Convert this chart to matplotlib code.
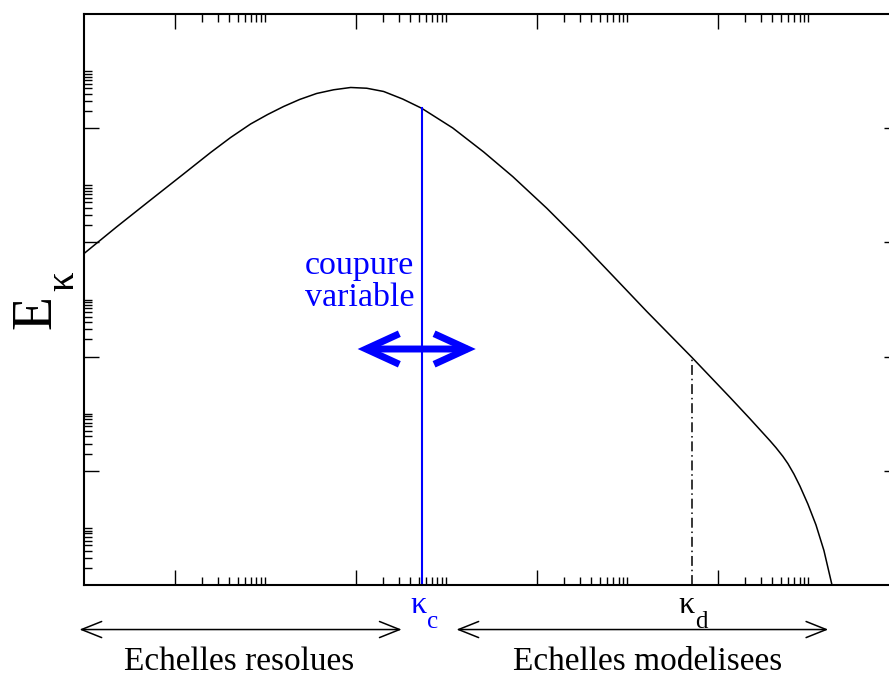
import numpy as np
import matplotlib.pyplot as plt
from matplotlib.patches import FancyArrowPatch
from matplotlib.ticker import FixedLocator, NullFormatter
from matplotlib.transforms import offset_copy

plt.rcParams['font.family'] = ['Liberation Serif', 'DejaVu Serif']

# energy spectrum (log10 of kappa and of E)
log_kappa = [-1.006, -0.641, -0.265, 0.099, 0.398, 0.619, 0.840, 1.028, 1.204,
             1.381, 1.569, 1.757, 1.945, 2.122, 2.309, 2.519, 2.729, 3.072,
             3.414, 3.735, 4.110, 4.475, 4.840, 5.215, 5.713, 6.133, 6.354,
             6.575, 6.641, 6.718, 6.773, 6.840, 6.906, 6.994, 7.083, 7.171, 7.260]
log_energy = [5.797, 6.270, 6.743, 7.198, 7.574, 7.837, 8.074, 8.240, 8.380,
              8.503, 8.608, 8.673, 8.713, 8.700, 8.643, 8.511, 8.349, 8.004,
              7.583, 7.152, 6.599, 6.021, 5.415, 4.790, 3.986, 3.287, 2.912,
              2.527, 2.406, 2.252, 2.126, 1.942, 1.732, 1.417, 1.053, 0.604, 0.0]

log_kappa_c = 2.729   # variable cutoff
log_kappa_d = 5.713   # dissipation scale
blue = '#0000ff'

kappa = 10.0 ** np.array(log_kappa)
energy = 10.0 ** np.array(log_energy)
kappa_c = 10.0 ** log_kappa_c
kappa_d = 10.0 ** log_kappa_d

fig = plt.figure(figsize=(8.89, 6.75), dpi=100)
# the right spine sits just past the image edge in the original
ax = fig.add_axes([84 / 889, 90 / 675, 815 / 889, 571 / 675])
ax.set_xscale('log')
ax.set_yscale('log')
ax.set_xlim(1e-1, 1e8)
ax.set_ylim(1e0, 1e10)

ax.plot(kappa, energy, color='black', lw=1.1)

e_c = 10 ** np.interp(log_kappa_c, log_kappa, log_energy)
e_d = 10 ** np.interp(log_kappa_d, log_kappa, log_energy)
ax.plot([kappa_c, kappa_c], [1, e_c], color=blue, lw=1.5)
ax.plot([kappa_d, kappa_d], [1, e_d], color='black', lw=1.1,
        linestyle=(0, (6.5, 2.5, 1, 2.5)))

# ticks: major every two decades, minors only in the first decade after each major
ax.xaxis.set_major_locator(FixedLocator([10.0 ** k for k in range(0, 9, 2)]))
ax.xaxis.set_minor_locator(FixedLocator([m * 10.0 ** k for k in range(0, 8, 2) for m in range(2, 11)]))
ax.yaxis.set_major_locator(FixedLocator([10.0 ** k for k in range(2, 9, 2)]))
ax.yaxis.set_minor_locator(FixedLocator([m * 10.0 ** k for k in range(0, 9, 2) for m in range(2, 11)]))
for axis in (ax.xaxis, ax.yaxis):
    axis.set_major_formatter(NullFormatter())
    axis.set_minor_formatter(NullFormatter())
ax.tick_params(which='both', direction='in', top=True, right=True, color='black')
ax.tick_params(which='major', length=11, width=1.0)
ax.tick_params(which='minor', length=5.8, width=1.0)
for sp in ax.spines.values():
    sp.set_linewidth(1.5)

# variable cutoff annotation
ax.text(10 ** 2.04, 10 ** 4.88, 'coupure\nvariable', color=blue, fontsize=24.5,
        ha='center', va='baseline', linespacing=1.1)
ax.add_patch(FancyArrowPatch((10 ** 2.022, 10 ** 4.133), (10 ** 3.326, 10 ** 4.133),
                             arrowstyle='<->,head_length=1.2,head_width=0.55',
                             mutation_scale=20, color=blue, lw=5,
                             shrinkA=0, shrinkB=0, capstyle='butt', joinstyle='miter'))

# kappa labels below the axis
trans = ax.get_xaxis_transform()
for k, sub, col, dx in [(kappa_c, 'c', blue, 3.6), (kappa_d, 'd', 'black', 2.2)]:
    ax.text(k, -0.049, 'κ', color=col, fontsize=23, ha='right', va='baseline',
            transform=offset_copy(trans, fig=fig, x=dx, y=0, units='points'))
    ax.text(k, -0.0753, sub, color=col, fontsize=18, ha='left', va='baseline',
            transform=offset_copy(trans, fig=fig, x=dx, y=0, units='points'))

for a, b in [(10 ** -1.05, 10 ** 2.508), (10 ** 3.113, 10 ** 7.219)]:
    ax.add_patch(FancyArrowPatch((a, -0.078), (b, -0.078), transform=trans,
                                 arrowstyle='<->,head_length=1.45,head_width=0.58',
                                 mutation_scale=10, color='black', lw=1.1,
                                 shrinkA=0, shrinkB=0, clip_on=False))

ax.text(10 ** 0.712, -0.149, 'Echelles resolues', fontsize=24, ha='center',
        va='baseline', transform=trans)
ax.text(10 ** 5.221, -0.149, 'Echelles modelisees', fontsize=24, ha='center',
        va='baseline', transform=trans)

# y label: E with a kappa subscript, rotated
fig.text(50.7 / 889, 1 - 312.5 / 675, 'E', fontsize=40, rotation=90,
         rotation_mode='anchor', ha='center', va='baseline')
fig.text(73 / 889, 1 - 281 / 675, 'κ', fontsize=28, rotation=90,
         rotation_mode='anchor', ha='center', va='baseline')

fig.savefig('out.png', dpi=100)
